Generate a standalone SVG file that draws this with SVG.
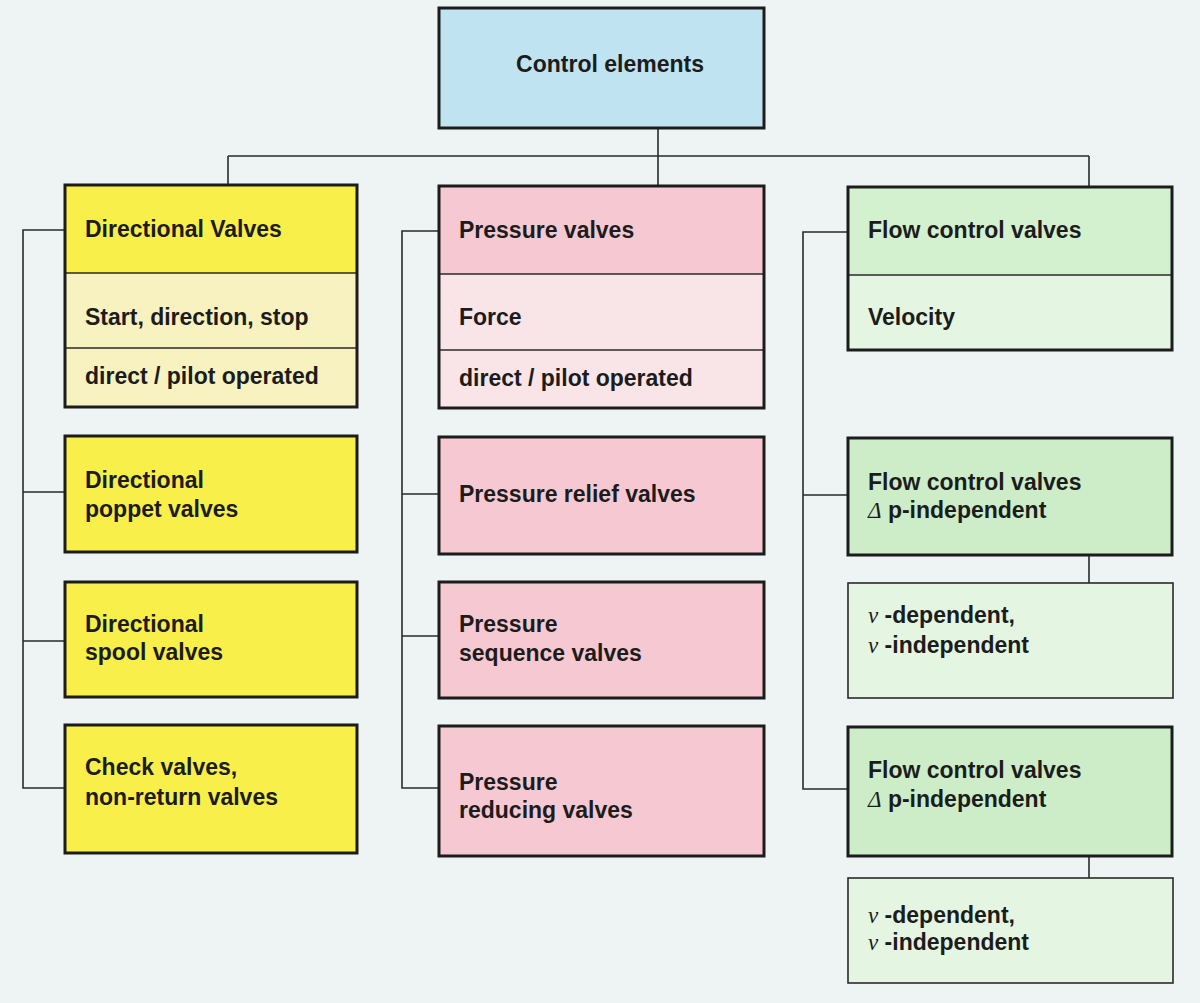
<svg xmlns="http://www.w3.org/2000/svg" width="1200" height="1003" viewBox="0 0 1200 1003">
<style>
.bx{stroke:#1c1c1c;stroke-width:3}
.thin{stroke:#2a2a2a;stroke-width:1.6}
.div{stroke:#2a2a2a;stroke-width:1.6}
.t{font-family:"Liberation Sans",Arial,sans-serif;font-weight:bold;font-size:23px;fill:#1c1c1c}
.g{font-family:"Liberation Serif","Times New Roman",serif;font-style:italic;font-weight:normal}
.yh{fill:#f8ef4a}.yl{fill:#f7f2bf}
.ph{fill:#f6c8d1}.pl{fill:#f9e5e8}
.gh{fill:#d3f0cf}.gl{fill:#e4f6e1}.gb{fill:#cdedc8}
.cn{fill:none;stroke:#2a2a2a;stroke-width:1.6}
</style>
<rect width="1200" height="1003" fill="#eef3f3"/>
<g id="connectors">
<path class="cn" d="M658 128V156M228 156H1089M228 156V185M658 156V186M1089 156V187"/>
<path class="cn" d="M65 230H23V788H65M23 492H65M23 641H65"/>
<path class="cn" d="M439 231H402V788H439M402 494H439M402 636H439"/>
<path class="cn" d="M848 232H803V789H848M803 495H848"/>
<path class="cn" d="M1089 555V583M1089 856V878"/>
</g>
<g id="control-elements">
<rect x="439" y="8" width="325" height="120" fill="#bfe3f0" class="bx"/>
<text class="t" x="610" y="72" text-anchor="middle">Control elements</text>
</g>
<g id="directional-valves">
<rect x="65" y="185" width="292" height="88" class="yh"/>
<rect x="65" y="273" width="292" height="134" class="yl"/>
<path class="div" d="M65 273H357M65 348H357"/>
<rect x="65" y="185" width="292" height="222" fill="none" class="bx"/>
<text class="t" x="85" y="237">Directional Valves</text>
<text class="t" x="85" y="325">Start, direction, stop</text>
<text class="t" x="85" y="384">direct / pilot operated</text>
</g>
<g id="directional-poppet">
<rect x="65" y="436" width="292" height="116" class="yh bx"/>
<text class="t" x="85" y="488">Directional</text>
<text class="t" x="85" y="517">poppet valves</text>
</g>
<g id="directional-spool">
<rect x="65" y="582" width="292" height="115" class="yh bx"/>
<text class="t" x="85" y="632">Directional</text>
<text class="t" x="85" y="660">spool valves</text>
</g>
<g id="check-valves">
<rect x="65" y="725" width="292" height="128" class="yh bx"/>
<text class="t" x="85" y="775">Check valves,</text>
<text class="t" x="85" y="805">non-return valves</text>
</g>
<g id="pressure-valves">
<rect x="439" y="186" width="325" height="88" class="ph"/>
<rect x="439" y="274" width="325" height="134" class="pl"/>
<path class="div" d="M439 274H764M439 350H764"/>
<rect x="439" y="186" width="325" height="222" fill="none" class="bx"/>
<text class="t" x="459" y="238">Pressure valves</text>
<text class="t" x="459" y="325">Force</text>
<text class="t" x="459" y="386">direct / pilot operated</text>
</g>
<g id="pressure-relief">
<rect x="439" y="437" width="325" height="117" class="ph bx"/>
<text class="t" x="459" y="502">Pressure relief valves</text>
</g>
<g id="pressure-sequence">
<rect x="439" y="582" width="325" height="116" class="ph bx"/>
<text class="t" x="459" y="632">Pressure</text>
<text class="t" x="459" y="661">sequence valves</text>
</g>
<g id="pressure-reducing">
<rect x="439" y="726" width="325" height="130" class="ph bx"/>
<text class="t" x="459" y="790">Pressure</text>
<text class="t" x="459" y="818">reducing valves</text>
</g>
<g id="flow-control-valves">
<rect x="848" y="187" width="324" height="88" class="gh"/>
<rect x="848" y="275" width="324" height="75" class="gl"/>
<path class="div" d="M848 275H1172"/>
<rect x="848" y="187" width="324" height="163" fill="none" class="bx"/>
<text class="t" x="868" y="238">Flow control valves</text>
<text class="t" x="868" y="325">Velocity</text>
</g>
<g id="flow-dp-1">
<rect x="848" y="438" width="324" height="117" class="gb bx"/>
<text class="t" x="868" y="490">Flow control valves</text>
<text class="t" x="868" y="518"><tspan class="g">Δ</tspan> p-independent</text>
</g>
<g id="nu-1">
<rect x="848" y="583" width="325" height="115" class="gl thin"/>
<text class="t" x="868" y="623"><tspan class="g">ν</tspan> -dependent,</text>
<text class="t" x="868" y="653"><tspan class="g">ν</tspan> -independent</text>
</g>
<g id="flow-dp-2">
<rect x="848" y="727" width="324" height="129" class="gb bx"/>
<text class="t" x="868" y="778">Flow control valves</text>
<text class="t" x="868" y="807"><tspan class="g">Δ</tspan> p-independent</text>
</g>
<g id="nu-2">
<rect x="848" y="878" width="325" height="105" class="gl thin"/>
<text class="t" x="868" y="923"><tspan class="g">ν</tspan> -dependent,</text>
<text class="t" x="868" y="950"><tspan class="g">ν</tspan> -independent</text>
</g>
</svg>
